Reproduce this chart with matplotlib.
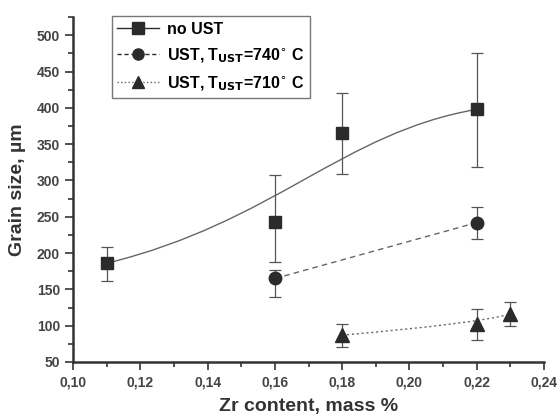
import numpy as np
import matplotlib.pyplot as plt
from matplotlib.path import Path
from matplotlib.patches import PathPatch
from matplotlib.ticker import MultipleLocator, FuncFormatter

plt.rcParams['font.family'] = ['Liberation Sans', 'DejaVu Sans']

# no UST
x1 = [0.11, 0.16, 0.18, 0.22]
y1 = [186, 243, 366, 398]
lo1 = [162, 188, 309, 318]
hi1 = [209, 307, 420, 476]
# UST, 740 C
x2 = [0.16, 0.22]
y2 = [165, 242]
lo2 = [140, 220]
hi2 = [177, 264]
# UST, 710 C
x3 = [0.18, 0.22, 0.23]
y3 = [87, 103, 116]
lo3 = [71, 80, 99]
hi3 = [102, 123, 132]

fig = plt.figure(figsize=(5.58, 4.18), dpi=100)
ax = fig.add_axes([0.131, 0.134, 0.844, 0.825])

col = '#2b2b2b'


def err(x, y, lo, hi):
    y = np.array(y)
    ax.errorbar(x, y, yerr=[y - np.array(lo), np.array(hi) - y], fmt='none',
                ecolor='#555555', elinewidth=0.9, capsize=4, capthick=0.9)


def bspline(x, y, ls):
    # Origin-style B-spline: data points used as bezier control points
    verts = list(zip(x, y))
    code = {4: Path.CURVE4, 3: Path.CURVE3}.get(len(x), Path.LINETO)
    codes = [Path.MOVETO] + [code] * (len(x) - 1)
    ax.add_patch(PathPatch(Path(verts, codes), fill=False, edgecolor='#666666', lw=1.0, ls=ls))


err(x1, y1, lo1, hi1)
err(x2, y2, lo2, hi2)
err(x3, y3, lo3, hi3)
bspline(x1, y1, '-')
bspline(x2, y2, (0, (4, 3)))
bspline(x3, y3, (0, (1.5, 2)))

ax.plot(x1, y1, 's', color=col, ms=9, ls='none')
ax.plot(x2, y2, 'o', color=col, ms=9, ls='none')
ax.plot(x3, y3, '^', color=col, ms=10, ls='none')

h1, = ax.plot([], [], 's-', color=col, ms=8, lw=1.0, mfc=col)
h2, = ax.plot([], [], 'o--', color=col, ms=8, lw=1.0, dashes=(3, 2))
h3, = ax.plot([], [], '^:', color='#666666', mfc=col, mec=col, ms=9, lw=1.0)
leg = ax.legend([h1, h2, h3], ['no UST', r'UST, T$_{\mathbf{UST}}$=740$^{\circ}$ C',
                               r'UST, T$_{\mathbf{UST}}$=710$^{\circ}$ C'],
                loc='upper left', bbox_to_anchor=(0.075, 1.012), fancybox=False,
                handlelength=2.6, handletextpad=0.5, borderpad=0.35, labelspacing=0.6,
                borderaxespad=0.2, prop={'weight': 'bold', 'size': 11.5})
leg.get_frame().set_edgecolor('#555555')
leg.get_frame().set_linewidth(1.0)

ax.set_xlim(0.10, 0.24)
ax.set_ylim(50, 525)
ax.xaxis.set_major_locator(MultipleLocator(0.02))
ax.xaxis.set_minor_locator(MultipleLocator(0.01))
ax.yaxis.set_major_locator(MultipleLocator(50))
ax.yaxis.set_minor_locator(MultipleLocator(25))
ax.xaxis.set_major_formatter(FuncFormatter(lambda v, p: ('%.2f' % v).replace('.', ',')))
ax.set_yticks(np.arange(50, 501, 50))

for s in ['top', 'right']:
    ax.spines[s].set_visible(False)
for s in ['left', 'bottom']:
    ax.spines[s].set_linewidth(1.8)
    ax.spines[s].set_color('#333333')
ax.tick_params(which='both', direction='out', color='#333333', width=1.2,
               labelcolor='#444444', labelsize=10)
ax.tick_params(which='major', length=6)
ax.tick_params(which='minor', length=3.5)
for t in ax.get_xticklabels() + ax.get_yticklabels():
    t.set_fontweight('bold')

ax.set_xlabel('Zr content, mass %', fontsize=14, fontweight='bold', color='#333333', labelpad=6)
ax.set_ylabel('Grain size, \u00b5m', fontsize=14, fontweight='bold', color='#333333', labelpad=8)

fig.savefig('out.png', dpi=100)
